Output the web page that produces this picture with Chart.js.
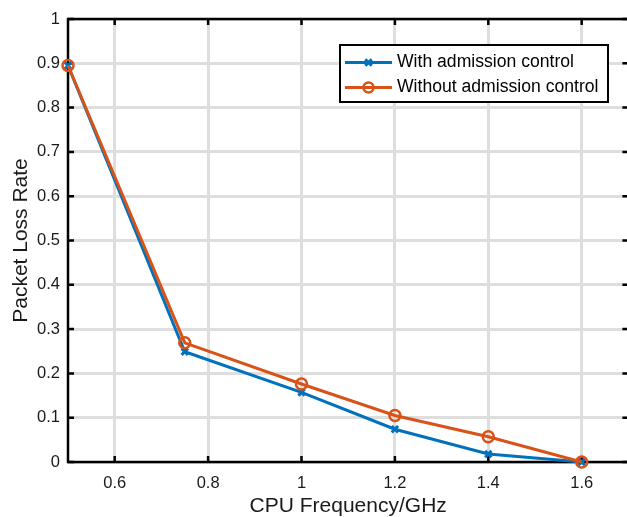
<!DOCTYPE html>
<html>
<head>
<meta charset="utf-8">
<script src="https://cdn.jsdelivr.net/npm/chart.js@4.4.0/dist/chart.umd.min.js"></script>
<style>
html,body{margin:0;padding:0;background:#fff;overflow:hidden;}
#wrap{position:absolute;left:0;top:0;width:660px;height:517px;}
</style>
</head>
<body>
<div id="wrap"><canvas id="c" width="660" height="517"></canvas></div>
<script>
// ---- data ----
const cpuFreq = [0.5, 0.75, 1.0, 1.2, 1.4, 1.6];
const withAdmission = [0.895, 0.249, 0.157, 0.074, 0.018, 0.0];
const withoutAdmission = [0.895, 0.269, 0.176, 0.105, 0.057, 0.0];
const seriesNames = ['With admission control', 'Without admission control'];
const xTickValues = [0.6, 0.8, 1.0, 1.2, 1.4, 1.6];
const xTickLabels = ['0.6', '0.8', '1', '1.2', '1.4', '1.6'];
const yTickValues = [0, 0.1, 0.2, 0.3, 0.4, 0.5, 0.6, 0.7, 0.8, 0.9, 1];
const yTickLabels = ['0', '0.1', '0.2', '0.3', '0.4', '0.5', '0.6', '0.7', '0.8', '0.9', '1'];
const xTitle = 'CPU Frequency/GHz';
const yTitle = 'Packet Loss Rate';

const BLUE = '#0072BD', ORANGE = '#D95319';
const FONT = "'Liberation Sans', Arial, Helvetica, sans-serif";

function pts(xs, ys) { return xs.map((x, i) => ({x: x, y: ys[i]})); }
function labelFor(vals, labels, v) {
  const i = vals.findIndex(t => Math.abs(t - v) < 1e-9);
  return i >= 0 ? labels[i] : '';
}

const framePlugin = {
  id: 'frame',
  beforeDatasetsDraw(chart) {
    const {ctx, chartArea: a, scales: {x, y}} = chart;
    ctx.save();
    ctx.strokeStyle = '#000';
    ctx.lineWidth = 2.5;
    ctx.strokeRect(a.left, a.top, a.right - a.left, a.bottom - a.top);
    const tl = 6;
    ctx.beginPath();
    xTickValues.forEach(v => {
      const px = x.getPixelForValue(v);
      ctx.moveTo(px, a.bottom); ctx.lineTo(px, a.bottom - tl);
      ctx.moveTo(px, a.top); ctx.lineTo(px, a.top + tl);
    });
    yTickValues.forEach(v => {
      const py = y.getPixelForValue(v);
      ctx.moveTo(a.left, py); ctx.lineTo(a.left + tl, py);
      ctx.moveTo(a.right, py); ctx.lineTo(a.right - tl, py);
    });
    ctx.stroke();
    ctx.restore();
  },
  afterDraw(chart) {
    const ctx = chart.ctx;
    const bx = 340, by = 45, bw = 268, bh = 57;
    ctx.save();
    ctx.fillStyle = '#fff';
    ctx.fillRect(bx, by, bw, bh);
    ctx.strokeStyle = '#000';
    ctx.lineWidth = 2;
    ctx.strokeRect(bx, by, bw, bh);
    const rows = [62.5, 87.5];
    chart.data.datasets.forEach((ds, i) => {
      const yy = rows[i];
      ctx.strokeStyle = ds.borderColor;
      ctx.lineWidth = 3;
      ctx.beginPath();
      ctx.moveTo(345, yy); ctx.lineTo(392, yy);
      ctx.stroke();
      const mx = 368.5;
      if (ds.pointStyle === 'circle') {
        ctx.lineWidth = 2.5;
        ctx.beginPath(); ctx.arc(mx, yy, 5, 0, Math.PI * 2); ctx.stroke();
      } else {
        ctx.lineWidth = 3;
        const r = 3.2;
        ctx.beginPath();
        ctx.moveTo(mx - r, yy - r); ctx.lineTo(mx + r, yy + r);
        ctx.moveTo(mx - r, yy + r); ctx.lineTo(mx + r, yy - r);
        ctx.stroke();
      }
      ctx.fillStyle = '#000';
      ctx.font = '17.6px ' + FONT;
      ctx.textBaseline = 'middle';
      ctx.textAlign = 'left';
      ctx.fillText(ds.label, 397, yy);
    });
    ctx.restore();
  }
};

new Chart(document.getElementById('c'), {
  type: 'line',
  data: {
    datasets: [
      {
        label: seriesNames[0], data: pts(cpuFreq, withAdmission),
        borderColor: BLUE, backgroundColor: BLUE, borderWidth: 3,
        pointStyle: 'crossRot', pointRadius: 4.5, pointBorderWidth: 3,
        pointBorderColor: BLUE, pointBackgroundColor: BLUE,
        tension: 0, clip: false, order: 1
      },
      {
        label: seriesNames[1], data: pts(cpuFreq, withoutAdmission),
        borderColor: ORANGE, backgroundColor: 'rgba(0,0,0,0)', borderWidth: 3,
        pointStyle: 'circle', pointRadius: 5.5, pointBorderWidth: 2.5,
        pointBorderColor: ORANGE, pointBackgroundColor: 'rgba(0,0,0,0)',
        tension: 0, clip: false, order: 0
      }
    ]
  },
  options: {
    responsive: false,
    animation: false,
    devicePixelRatio: 1,
    layout: {padding: {left: 0, top: 19, right: 31.6, bottom: 0}},
    plugins: {legend: {display: false}, tooltip: {enabled: false}},
    scales: {
      x: {
        type: 'linear', position: 'bottom', min: 0.5, max: 1.7,
        afterBuildTicks(s) { s.ticks = xTickValues.map(v => ({value: v})); },
        afterFit(s) { s.height = 55; },
        grid: {color: '#dedede', lineWidth: 3, drawTicks: false},
        border: {display: false},
        ticks: {
          font: {size: 16.5, family: FONT}, color: '#1a1a1a', padding: 12,
          maxRotation: 0, autoSkip: false,
          callback: v => labelFor(xTickValues, xTickLabels, v)
        },
        title: {display: true, text: xTitle, color: '#1a1a1a',
          font: {size: 21, family: FONT, lineHeight: 1}, padding: {top: 0, bottom: 0}}
      },
      y: {
        type: 'linear', position: 'left', min: 0, max: 1,
        afterBuildTicks(s) { s.ticks = yTickValues.map(v => ({value: v})); },
        afterFit(s) { s.width = 68; },
        grid: {color: '#dedede', lineWidth: 3, drawTicks: false},
        border: {display: false},
        ticks: {
          font: {size: 16.5, family: FONT}, color: '#1a1a1a', padding: 8,
          autoSkip: false,
          callback: v => labelFor(yTickValues, yTickLabels, v)
        },
        title: {display: true, text: yTitle, color: '#1a1a1a',
          font: {size: 21, family: FONT, lineHeight: 1}, padding: {top: 10.5, bottom: 0}}
      }
    }
  },
  plugins: [framePlugin]
});
</script>
</body>
</html>
